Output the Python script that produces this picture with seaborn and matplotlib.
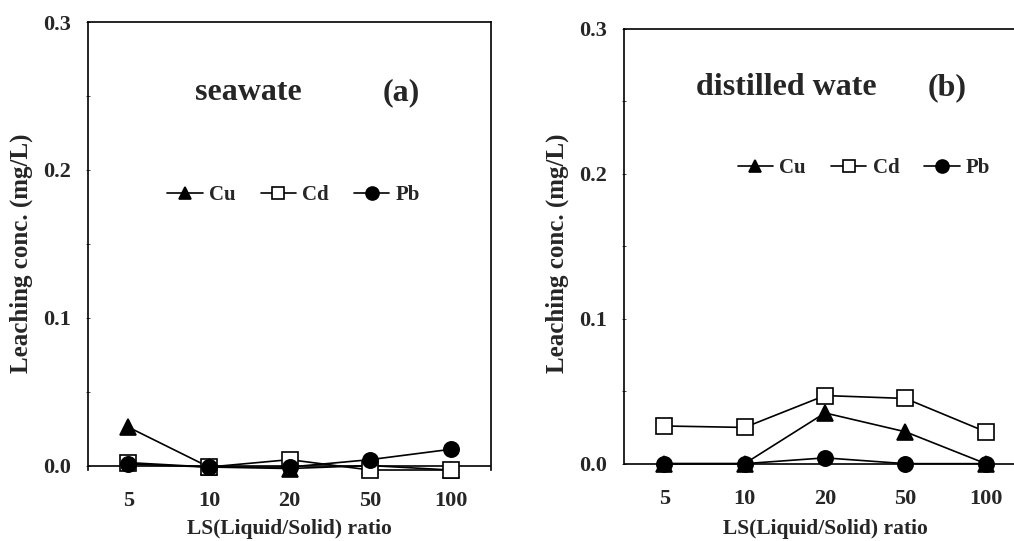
import matplotlib
matplotlib.use('Agg')
import matplotlib.pyplot as plt
import seaborn as sns

# LS ratio categories
ls_ratio = ['5', '10', '20', '50', '100']

# (a) seawater leaching conc. (mg/L)
sea_cu = [0.026, -0.001, -0.002, 0.000, -0.003]
sea_cd = [0.002, -0.001, 0.004, -0.003, -0.003]
sea_pb = [0.001, -0.001, -0.001, 0.004, 0.011]

# (b) distilled water leaching conc. (mg/L)
dist_cu = [0.000, 0.000, 0.035, 0.022, 0.000]
dist_cd = [0.026, 0.025, 0.047, 0.045, 0.022]
dist_pb = [0.000, 0.000, 0.004, 0.000, 0.000]

sns.set_theme(style='white')
plt.rcParams['font.family'] = ['Liberation Serif', 'DejaVu Serif']
plt.rcParams['font.weight'] = 'bold'


def draw_panel(ax, cu, cd, pb, title, tag, title_xy, tag_x, leg_xy, show_bottom, lab_y):
    """One panel: three metals against LS ratio"""
    common = dict(ax=ax, color='black', lw=1.2, markersize=11,
                  markeredgecolor='black', markeredgewidth=1.2,
                  sort=False, clip_on=False)
    sns.lineplot(x=ls_ratio, y=cu, marker='^', label='Cu', **common)
    sns.lineplot(x=ls_ratio, y=cd, marker='s', markerfacecolor='white', label='Cd', **common)
    sns.lineplot(x=ls_ratio, y=pb, marker='o', label='Pb', **common)

    ax.axhline(0, color='black', lw=1.2, zorder=1)
    ax.set_xlim(-0.5, 4.5)
    ax.set_ylim(-0.003, 0.3)
    ax.set_yticks([0.0, 0.1, 0.2, 0.3])
    ax.set_yticklabels(['0.0', '0.1', '0.2', '0.3'])
    ax.set_yticks([0.05, 0.15, 0.25], minor=True)
    ax.tick_params(axis='y', which='both', direction='inout', length=3, width=0.6,
                   labelsize=16, pad=11, left=True)
    ax.tick_params(axis='x', length=0, labelsize=16, pad=15)
    for s in ax.spines.values():
        s.set_linewidth(1.2)
        s.set_color('black')
    ax.spines['bottom'].set_visible(False)
    if not show_bottom:
        ax.spines['left'].set_bounds(0, 0.3)

    ax.set_xlabel('LS(Liquid/Solid) ratio', fontsize=15.5, fontweight='bold')
    ax.set_ylabel('Leaching conc. (mg/L)', fontsize=18, fontweight='bold')
    ax.xaxis.set_label_coords(0.5, lab_y[0])
    ax.yaxis.set_label_coords(-0.136, lab_y[1])

    ax.text(title_xy[0], title_xy[1], title, transform=ax.transAxes,
            ha='center', va='center', fontsize=23, fontweight='bold')
    ax.text(tag_x, title_xy[1], tag, transform=ax.transAxes,
            ha='center', va='center', fontsize=23, fontweight='bold')

    ax.legend(loc='center', bbox_to_anchor=leg_xy, ncol=3, frameon=False,
              fontsize=15, handlelength=1.7, handletextpad=0.3,
              columnspacing=1.2, markerscale=0.85)


fig = plt.figure(figsize=(10.14, 5.41), dpi=100)
ax_a = fig.add_axes([88 / 1014, 1 - 470 / 541, 403 / 1014, 448 / 541])
ax_b = fig.add_axes([624 / 1014, 1 - 468 / 541, 402 / 1014, 439 / 541])

draw_panel(ax_a, sea_cu, sea_cd, sea_pb, 'seawate', '(a)',
           (0.397, 0.842), 0.777, (0.51, 0.614), True, (-0.109, 0.484))
draw_panel(ax_b, dist_cu, dist_cd, dist_pb, 'distilled wate', '(b)',
           (0.403, 0.866), 0.803, (0.597, 0.683), False, (-0.116, 0.49))

fig.savefig('out.png', dpi=100)
